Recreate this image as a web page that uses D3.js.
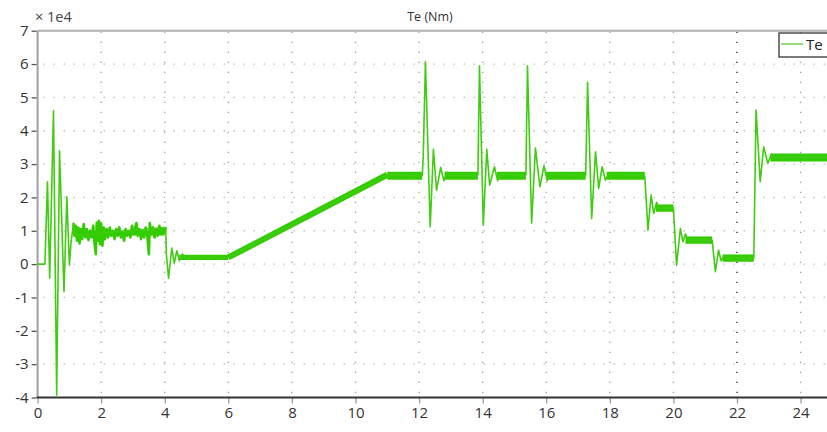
<!DOCTYPE html>
<html>
<head>
<meta charset="utf-8">
<script src="https://cdn.jsdelivr.net/npm/d3@7"></script>
<style>
  body { margin: 0; background: #fff; overflow: hidden; }
  text { font-family: "Open Sans", "DejaVu Sans", sans-serif; }
</style>
</head>
<body>
<script>
const svgW = 827;
const svgH = 432;

// data (Te in units of 1e4 Nm, time in s)
const xTicks = [0, 2, 4, 6, 8, 10, 12, 14, 16, 18, 20, 22, 24];
const yTicks = [-4, -3, -2, -1, 0, 1, 2, 3, 4, 5, 6, 7];
const cursorT = 22;

// thin trace: transients
const teTrace = [
  [0, 0], [0.23, 0], [0.31, 2.47], [0.38, -0.42], [0.5, 4.6], [0.6, -3.93],
  [0.69, 3.4], [0.83, -0.83], [0.92, 2.02], [1.0, -0.03], [1.05, 0.63], [1.13, 1.23],
  [1.16, 0.85], [4.03, 1.1],
  [4.05, 0.3], [4.12, -0.42], [4.22, 0.48], [4.3, 0.03], [4.38, 0.4], [4.46, 0.1],
  [4.55, 0.3], [4.65, 0.2],
  [6.0, 0.2], [11.0, 2.68],
  [12.1, 2.65], [12.13, 3.2], [12.2, 6.07], [12.35, 1.12], [12.45, 3.44], [12.55, 2.22],
  [12.68, 2.9], [12.78, 2.5], [12.88, 2.75], [12.95, 2.65],
  [13.85, 2.65], [13.9, 5.95], [14.02, 1.17], [14.13, 3.44], [14.22, 2.37], [14.37, 2.92],
  [14.47, 2.5], [14.57, 2.7],
  [15.36, 2.65], [15.41, 5.95], [15.54, 1.23], [15.66, 3.48], [15.8, 2.32], [15.93, 2.95],
  [16.03, 2.5], [16.12, 2.7],
  [17.24, 2.65], [17.3, 5.45], [17.43, 1.37], [17.55, 3.37], [17.65, 2.27], [17.76, 2.92],
  [17.86, 2.52], [17.96, 2.7],
  [19.1, 2.65], [19.2, 1.02], [19.3, 2.07], [19.38, 1.52], [19.47, 1.85], [19.55, 1.68],
  [20.0, 1.68], [20.1, -0.03], [20.22, 1.07], [20.3, 0.67], [20.38, 0.9], [20.46, 0.72],
  [21.22, 0.72], [21.32, -0.23], [21.42, 0.42], [21.5, 0.1], [21.58, 0.25], [21.65, 0.18],
  [22.53, 0.18], [22.6, 4.62], [22.73, 2.47], [22.84, 3.52], [22.97, 3.02], [23.08, 3.3],
  [23.15, 3.2], [25, 3.2]
];

// noisy part between 1.1 s and 4 s
const teNoise = [
  [1.13, 1.23], [1.16, 0.85], [1.2, 1.15], [1.24, 0.7], [1.28, 1.1], [1.32, 0.62],
  [1.36, 1.05], [1.4, 0.75], [1.45, 1.2], [1.5, 0.8], [1.55, 1.05], [1.6, 0.72],
  [1.65, 1.0], [1.7, 0.8], [1.75, 1.15], [1.79, 0.65], [1.83, 0.3], [1.86, 1.25],
  [1.9, 0.7], [1.93, 1.3], [1.96, 0.6], [2.0, 1.22], [2.04, 0.55], [2.08, 1.1],
  [2.12, 0.75], [2.17, 1.05], [2.22, 0.8], [2.27, 1.1], [2.32, 0.85], [2.37, 1.0],
  [2.42, 0.75], [2.47, 1.05], [2.52, 0.85], [2.57, 1.1], [2.62, 0.8], [2.67, 0.95],
  [2.72, 0.7], [2.77, 1.05], [2.82, 0.85], [2.87, 1.0], [2.92, 0.8], [2.97, 1.15],
  [3.02, 0.9], [3.07, 1.1], [3.11, 1.23], [3.15, 0.85], [3.2, 1.05], [3.25, 0.75],
  [3.3, 1.0], [3.35, 0.8], [3.4, 1.1], [3.45, 0.85], [3.5, 0.3], [3.53, 1.23],
  [3.58, 0.9], [3.63, 1.1], [3.68, 0.8], [3.73, 1.05], [3.78, 0.85], [3.83, 1.15],
  [3.88, 0.9], [3.93, 1.05], [3.98, 0.95], [4.03, 1.1]
];

// steady-state ripple bands: [t0, v0, t1, v1, half-width]
const teBands = [
  [1.2, 0.93, 4.0, 0.93, 0.07],
  [4.45, 0.2, 6.0, 0.2, 0.08],
  [6.0, 0.2, 11.0, 2.68, 0.09],
  [11.0, 2.65, 12.1, 2.65, 0.12],
  [12.8, 2.65, 13.85, 2.65, 0.12],
  [14.45, 2.65, 15.36, 2.65, 0.12],
  [16.0, 2.65, 17.24, 2.65, 0.12],
  [17.9, 2.65, 19.1, 2.65, 0.12],
  [19.45, 1.68, 20.0, 1.68, 0.11],
  [20.38, 0.72, 21.22, 0.72, 0.11],
  [21.55, 0.18, 22.53, 0.18, 0.11],
  [23.05, 3.2, 25, 3.2, 0.12]
];

const svg = d3.select('body')
              .append('svg')
              .attr('width', svgW)
              .attr('height', svgH);

const xScale = d3.scaleLinear().domain([0, 25]).range([37.6, 37.6 + 25 * 31.79]);
const yScale = d3.scaleLinear().domain([-4, 7]).range([397.5, 30.7]);
const x0 = xScale(0), x1 = svgW + 10;
const yTop = yScale(7), yBot = yScale(-4);

// grid
const grid = svg.append('g');
grid.selectAll('.hg')
    .data(yTicks.filter(d => d > -4 && d < 7))
    .enter().append('line')
    .attr('x1', x0 + 6).attr('x2', x1)
    .attr('y1', d => yScale(d)).attr('y2', d => yScale(d))
    .attr('stroke', '#b4b4b4').attr('stroke-width', 1.3)
    .attr('stroke-dasharray', '1.3,8.7');
grid.selectAll('.vg')
    .data(xTicks.filter(d => d > 0))
    .enter().append('line')
    .attr('x1', d => xScale(d)).attr('x2', d => xScale(d))
    .attr('y1', yTop + 1).attr('y2', yBot)
    .attr('stroke', d => d === cursorT ? '#222' : '#9a9a9a')
    .attr('stroke-width', 1.3)
    .attr('stroke-dasharray', '1.3,8.7');

// axes
svg.append('line')
   .attr('x1', x0).attr('x2', x1).attr('y1', yTop).attr('y2', yTop)
   .attr('stroke', '#b0b0b0').attr('stroke-width', 2);
svg.append('line')
   .attr('x1', x0).attr('x2', x0).attr('y1', yTop).attr('y2', yBot)
   .attr('stroke', '#a0a0a0').attr('stroke-width', 2);

const yAxis = d3.axisLeft(yScale).tickValues(yTicks).tickSize(5).tickPadding(3)
                .tickFormat(d3.format('d'));
const gy = svg.append('g').attr('transform', `translate(${x0 - 1}, 0)`).call(yAxis);
gy.select('.domain').remove();
gy.selectAll('.tick line').attr('stroke', '#555').attr('stroke-width', 1.3);
gy.selectAll('.tick text').attr('font-size', 15).attr('fill', '#333')
  .text(d => d < 0 ? '-' + Math.abs(d) : d);

const xAxis = d3.axisBottom(xScale).tickValues(xTicks).tickSize(6).tickPadding(4)
                .tickFormat(d3.format('d'));
const gx = svg.append('g').attr('transform', `translate(0, ${yBot})`).call(xAxis);
gx.select('.domain').remove();
gx.selectAll('.tick line').attr('stroke', '#999').attr('stroke-width', 1.3);
gx.selectAll('.tick text').attr('font-size', 15).attr('fill', '#333');
svg.append('line')
   .attr('x1', x0 - 1).attr('x2', x1).attr('y1', yBot).attr('y2', yBot)
   .attr('stroke', '#333').attr('stroke-width', 2);

// titles
svg.append('text').attr('x', 430).attr('y', 21).attr('text-anchor', 'middle')
   .attr('font-size', 12.5).attr('fill', '#333').text('Te (Nm)');
svg.append('text').attr('x', 35).attr('y', 22)
   .attr('font-size', 14.5).attr('fill', '#444').text('× 1e4');

// data
const plot = svg.append('g');
const line = d3.line().x(d => xScale(d[0])).y(d => yScale(d[1]));

plot.selectAll('.band')
    .data(teBands)
    .enter().append('line')
    .attr('x1', d => xScale(d[0])).attr('y1', d => yScale(d[1]))
    .attr('x2', d => xScale(d[2])).attr('y2', d => yScale(d[3]))
    .attr('stroke', '#33cc00')
    .attr('stroke-width', d => yScale(0) - yScale(2 * d[4]));

plot.append('path')
    .datum(teNoise)
    .attr('d', line)
    .attr('fill', 'none')
    .attr('stroke', '#33cc00')
    .attr('stroke-width', 2.6)
    .attr('stroke-linejoin', 'round');

plot.append('path')
    .datum(teTrace)
    .attr('d', line)
    .attr('fill', 'none')
    .attr('stroke', '#40cc10')
    .attr('stroke-width', 1.6)
    .attr('stroke-linejoin', 'round');

// legend
const lg = svg.append('g').attr('transform', 'translate(779, 33)');
lg.append('rect').attr('x', 0).attr('y', 0).attr('width', 60).attr('height', 24)
  .attr('fill', '#fff').attr('stroke', '#333').attr('stroke-width', 1.3);
lg.append('line').attr('x1', 2).attr('x2', 24).attr('y1', 11).attr('y2', 11)
  .attr('stroke', '#7ad65a').attr('stroke-width', 1.6);
lg.append('text').attr('x', 27).attr('y', 17).attr('font-size', 15)
  .attr('fill', '#222').text('Te');
</script>
</body>
</html>
